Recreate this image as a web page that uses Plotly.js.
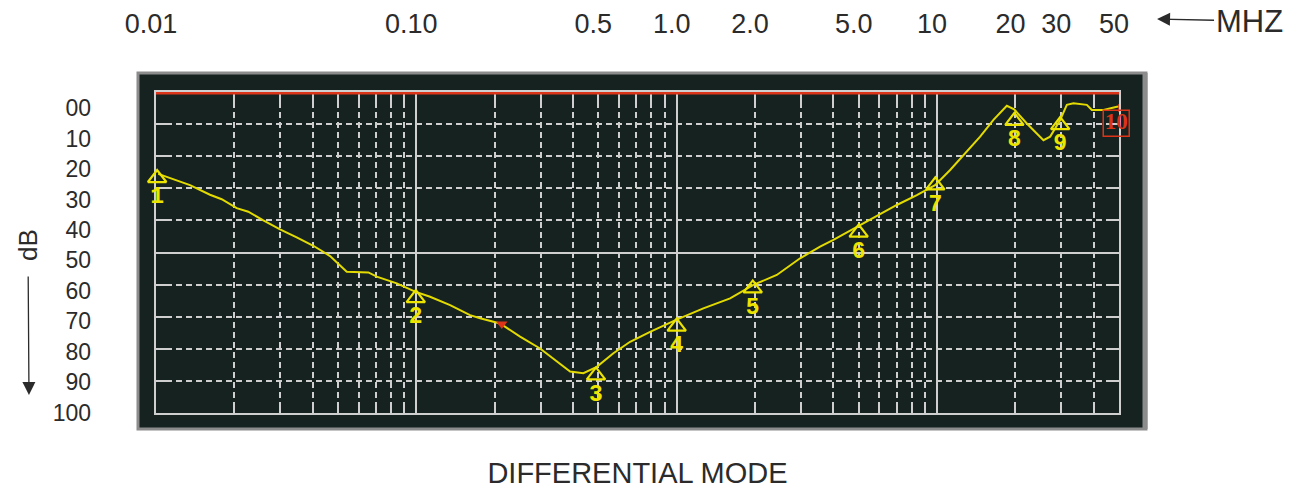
<!DOCTYPE html>
<html>
<head>
<meta charset="utf-8">
<script src="https://cdn.plot.ly/plotly-3.0.1.min.js"></script>
<style>html,body{margin:0;padding:0;background:#fff;}#chart{width:1291px;height:489px;}</style>
</head>
<body>
<div id="chart"></div>
<script>
// ---- data ----
const freqMHz = [0.0102,0.01351,0.01612,0.01788,0.02042,0.02262,0.02584,0.02995,0.03471,0.04021,0.04662,0.05403,0.06541,0.07046,0.08409,0.0989,0.1129,0.1348,0.1608,0.1757,0.2097,0.2503,0.2987,0.336,0.3895,0.4381,0.4933,0.5713,0.6622,0.7904,0.9947,1.266,1.604,1.971,2.424,2.979,3.254,3.555,3.999,4.504,4.989,5.872,7.008,8.364,9.833,11.23,13.02,14.64,16.47,18.54,19.78,22.13,25.63,27.2,29.72,31.52,33.42,37.62,39.33,43.59,49.07,50];
const attenDB = [25.5,29,32,33.4,36.2,37.3,40,42.8,45.3,47.9,51.1,56,56.2,57.5,59.6,62.2,63.8,66.4,69.5,70.5,72.1,76.2,79.9,83,87.1,87.6,85.6,81.4,77.8,74.7,71,67.4,64.3,60.1,57,51.8,50,48.2,46.1,43.8,41.9,38.8,35.2,32.1,29,24.3,18.6,13.9,8.7,4.3,5.4,9.8,15,13.9,8.7,4,3.5,4,5.6,5.6,4.6,4.5];

const markerFreq = [0.0101,0.0995,0.49,1.0,1.96,5.0,9.85,19.83,29.72];
const markerDB = [26.8,64.2,88.3,73.1,61.2,43.8,29.1,9.0,10.3];
const markerLabels = ["1","2","3","4","5","6","7","8","9"];

const refMarkerFreq = [48.8];
const refMarkerDB = [9.75];
const refMarkerLabel = ["10"];
const refTickFreq = [50, 50];
const refTickDB = [3.7, 6.2];

const limitFreq = [0.01, 50];
const limitDB = [0, 0];

const redDeltaFreq = [0.2129];
const redDeltaDB = [72.3];

const refLevelFreq = [0.00961];
const refLevelDB = [0.4];

const topTickVals = [0.01,0.1,0.5,1,2,5,10,20,30,50];
const topTickText = ["0.01","0.10","0.5","1.0","2.0","5.0","10","20","30","50"];
const dbTickVals = [0,10,20,30,40,50,60,70,80,90,100];
const dbTickText = ["00","10","20","30","40","50","60","70","80","90","100"];

// ---- grid positions (axis config) ----
const decades = [0.01,0.1,1,10];
const minorGrid = [];
decades.forEach(d => { for (let k = 2; k <= 9; k++) { const v = +(d*k).toPrecision(3); if (v < 50.001) minorGrid.push(v); } });
const dashedDB = [10,20,30,40,60,70,80,90];

const GRID = '#cfcfcf';
const YEL = '#ece400';
const RED = '#dc3418';
const XR = [Math.log10(0.01), Math.log10(50)];

const traces = [
  {x:[], y:[], xaxis:'x2', yaxis:'y', hoverinfo:'skip', showlegend:false},
  {x:[], y:[], xaxis:'x3', yaxis:'y', hoverinfo:'skip', showlegend:false},
  {x:[], y:[], xaxis:'x', yaxis:'y2', hoverinfo:'skip', showlegend:false},
  {x:[], y:[], xaxis:'x', yaxis:'y3', hoverinfo:'skip', showlegend:false},
  {x:limitFreq, y:limitDB, mode:'lines', line:{color:RED, width:5}, cliponaxis:false, hoverinfo:'skip'},
  {x:freqMHz, y:attenDB, mode:'lines', line:{color:'#e2da00', width:2}, hoverinfo:'skip'},
  {x:markerFreq, y:markerDB, mode:'markers', 
   marker:{symbol:'triangle-up-open', size:16, color:YEL, line:{color:YEL, width:2.2}},
   cliponaxis:false, hoverinfo:'skip'},
  {x:markerFreq, y:markerDB, mode:'markers+text', text:markerLabels, textposition:'bottom center',
   marker:{size:11, opacity:0, color:YEL},
   textfont:{family:'Liberation Mono, DejaVu Sans Mono, monospace', size:23, color:YEL, weight:'bold'},
   cliponaxis:false, hoverinfo:'skip'},
  {x:refTickFreq, y:refTickDB, mode:'lines', line:{color:RED, width:1.5}, cliponaxis:false, hoverinfo:'skip'},
  {x:refMarkerFreq, y:refMarkerDB, mode:'markers+text', text:refMarkerLabel, textposition:'middle center',
   marker:{symbol:'square-open', size:26, color:RED, line:{color:RED, width:1.5}},
   textfont:{family:'Liberation Serif, DejaVu Serif, serif', size:23, color:RED, weight:'bold'},
   cliponaxis:false, hoverinfo:'skip'},
  {x:redDeltaFreq, y:redDeltaDB, mode:'markers', marker:{symbol:'triangle-down', size:10, color:RED}, cliponaxis:false, hoverinfo:'skip'},
  {x:refLevelFreq, y:refLevelDB, mode:'markers', marker:{symbol:'triangle-right-open', size:9, color:YEL, line:{color:YEL, width:1.5}}, cliponaxis:false, hoverinfo:'skip'}
];

const layout = {
  width:1291, height:489,
  margin:{l:156, r:172, t:92, b:76},
  paper_bgcolor:'#ffffff', plot_bgcolor:'#162220',
  showlegend:false,
  font:{family:'Liberation Sans, Arial, sans-serif', color:'#2b2b2b'},
  xaxis:{type:'log', range:XR, tickvals:minorGrid, showticklabels:false, showgrid:true,
         gridcolor:GRID, gridwidth:2, griddash:'6px,4px', ticks:'inside', ticklen:10, tickwidth:2,
         tickcolor:GRID, showline:true, linecolor:GRID, linewidth:2, mirror:'ticks', zeroline:false,
         layer:'below traces',
         title:{text:'DIFFERENTIAL MODE', font:{size:29, color:'#2b2b2b'}, standoff:49}},
  xaxis2:{type:'log', range:XR, overlaying:'x', anchor:'y', side:'bottom', tickvals:decades,
          showticklabels:false, showgrid:true, gridcolor:GRID, gridwidth:2, ticks:'', zeroline:false, showline:false},
  xaxis3:{type:'log', range:XR, overlaying:'x', anchor:'y', side:'top', tickvals:topTickVals, ticktext:topTickText,
          tickfont:{size:27, color:'#2b2b2b'}, ticks:'', showgrid:false, zeroline:false, showline:false,
          ticklabelstandoff:53, ticklabelshift:-5},
  yaxis:{range:[100,0], tickvals:dashedDB, showticklabels:false, showgrid:true, gridcolor:GRID, gridwidth:2,
         griddash:'6px,4px', ticks:'inside', ticklen:10, tickwidth:2, tickcolor:GRID, showline:true,
         linecolor:GRID, linewidth:2, mirror:'ticks', zeroline:false, layer:'below traces'},
  yaxis2:{range:[100,0], overlaying:'y', anchor:'x', side:'left', tickvals:[50], showticklabels:false,
          showgrid:true, gridcolor:GRID, gridwidth:2, ticks:'', zeroline:false, showline:false},
  yaxis3:{range:[100.05,-5.25], overlaying:'y', anchor:'x', side:'left', tickvals:dbTickVals, ticktext:dbTickText,
          tickfont:{size:23, color:'#2b2b2b'}, ticks:'', showgrid:false, zeroline:false, showline:false,
          ticklabelstandoff:64},
  shapes:[
    {type:'rect', xref:'paper', yref:'paper', x0:-0.0187, x1:1.028, y0:-0.0498, y1:1.0592,
     fillcolor:'#162220', line:{color:'#8c8c8c', width:3}, layer:'below'},
    {type:'line', xref:'paper', yref:'paper', x0:1.027, x1:1.027, y0:-0.0498, y1:1.0592,
     line:{color:'#8c8c8c', width:5}, layer:'below'}
  ],
  annotations:[
    {xref:'paper', yref:'paper', x:1.0395, y:1.2274, text:'MHZ', showarrow:true, ax:92, ay:2,
     arrowhead:2, arrowsize:2, arrowwidth:1.3, arrowcolor:'#2b2b2b', font:{size:31, color:'#2b2b2b'}},
    {xref:'paper', yref:'paper', x:-0.1319, y:0.0561, text:'dB', textangle:-90, showarrow:true, ax:-1, ay:-150,
     startstandoff:14, arrowhead:2, arrowsize:2, arrowwidth:1.3, arrowcolor:'#2b2b2b', font:{size:26, color:'#2b2b2b'}}
  ]
};

Plotly.newPlot('chart', traces, layout, {staticPlot:true, displayModeBar:false});
</script>
</body>
</html>
